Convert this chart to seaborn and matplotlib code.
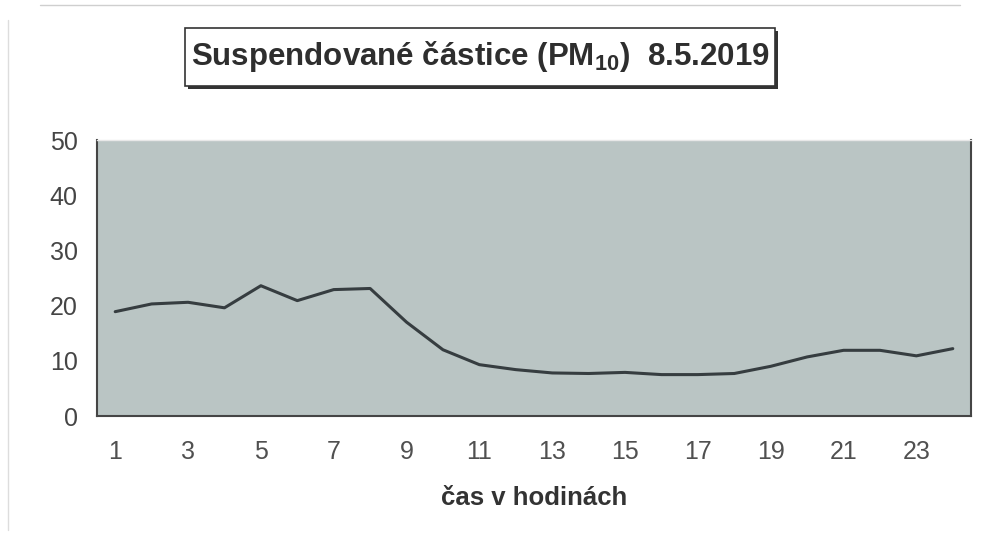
import matplotlib
matplotlib.use("Agg")
import matplotlib.pyplot as plt
from matplotlib.patches import Rectangle
from matplotlib.lines import Line2D
import seaborn as sns
import pandas as pd

hours = list(range(1, 25))
pm10 = [18.9, 20.3, 20.6, 19.6, 23.6, 20.9, 22.9, 23.1, 17.0, 12.0,
        9.3, 8.4, 7.8, 7.7, 7.9, 7.5, 7.5, 7.7, 9.0, 10.7,
        11.9, 11.9, 10.9, 12.2]
x_tick_labels = [str(h) for h in range(1, 24, 2)]
y_ticks = [0, 10, 20, 30, 40, 50]
title = r"Suspendované částice (PM$_{10}$)  8.5.2019"
x_label = "čas v hodinách"

sns.set_style("white")
plt.rcParams['font.family'] = ['Liberation Sans', 'DejaVu Sans']
plt.rcParams['mathtext.fontset'] = 'custom'
plt.rcParams['mathtext.rm'] = 'Liberation Sans:bold'
plt.rcParams['mathtext.it'] = 'Liberation Sans:bold'
plt.rcParams['mathtext.bf'] = 'Liberation Sans:bold'

df = pd.DataFrame({"hour": hours, "pm10": pm10})

W, H = 994, 543
fig = plt.figure(figsize=(W / 100, H / 100), dpi=100)
ax = fig.add_axes([97 / W, 1 - 416 / H, (971 - 97) / W, (416 - 140) / H])
ax.set_facecolor("#bac5c4")

sns.lineplot(data=df, x="hour", y="pm10", ax=ax, color="#363d40", linewidth=2.2)

ax.set_xlim(0.5, 24.5)
ax.set_ylim(0, 50)
ax.set_yticks(y_ticks)
ax.set_yticklabels([str(v) for v in y_ticks])
ax.set_xticks(range(1, 24, 2))
ax.set_xticklabels(x_tick_labels)
ax.set_xticks([0.5 + i for i in range(25)], minor=True)
ax.tick_params(axis='x', which='major', length=0, pad=17, labelsize=18, labelcolor="#505050")
ax.tick_params(axis='x', which='minor', length=4, width=1.1, color="#444444", direction='out')
ax.tick_params(axis='y', length=6, width=1.2, color="#444444", direction='out',
               labelsize=18, labelcolor="#454545", pad=8)
ax.set_xlabel(x_label, fontsize=18.5, fontweight='bold', color="#333333", labelpad=16)
ax.set_ylabel("")
for s in ["left", "bottom", "right"]:
    ax.spines[s].set_color("#454545")
    ax.spines[s].set_linewidth(1.5)
ax.spines["top"].set_color("#e8e8e8")
ax.spines["top"].set_linewidth(1.0)

# title box with shadow
bx0, bx1, by0, by1 = 185, 775, 28, 86
fig.patches.append(Rectangle((bx0 / W + 3 / W, 1 - by1 / H - 3 / H), (bx1 - bx0) / W, (by1 - by0) / H,
                             transform=fig.transFigure, facecolor="#333333", edgecolor="none", zorder=1))
fig.patches.append(Rectangle((bx0 / W, 1 - by1 / H), (bx1 - bx0) / W, (by1 - by0) / H,
                             transform=fig.transFigure, facecolor="white", edgecolor="#333333",
                             linewidth=1.2, zorder=2))
fig.text((bx0 + bx1) / 2 / W, 1 - 57 / H, title, ha='center', va='center',
         fontsize=22.5, fontweight='bold', color="#2e2e2e", zorder=3)

# faint scan borders
fig.lines.append(Line2D([40 / W, 960 / W], [1 - 5 / H, 1 - 5 / H], transform=fig.transFigure,
                        color="#cfcfcf", linewidth=1.0))
fig.lines.append(Line2D([8 / W, 8 / W], [1 - 20 / H, 1 - 530 / H], transform=fig.transFigure,
                        color="#dddddd", linewidth=1.0))

fig.savefig("out.png", dpi=100)
